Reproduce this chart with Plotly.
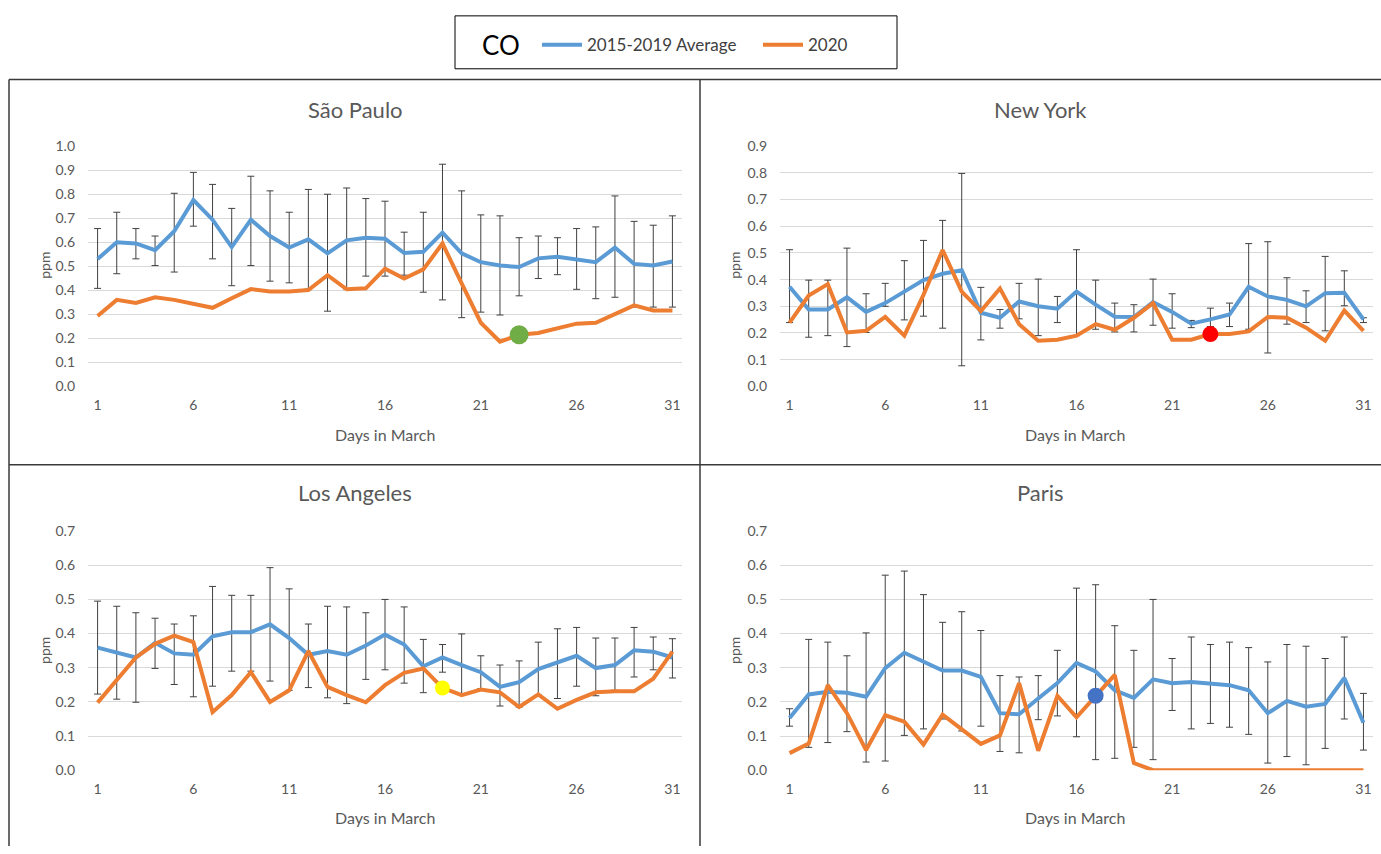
import plotly.graph_objects as go

# ---- data: daily CO (ppm) for March ----
days = list(range(1, 32))
x_ticks = [1, 6, 11, 16, 21, 26, 31]

sp_avg = [0.53, 0.60, 0.595, 0.567, 0.646, 0.776, 0.694, 0.58, 0.694, 0.626, 0.578, 0.612, 0.554, 0.608, 0.619,
          0.615, 0.555, 0.56, 0.64, 0.554, 0.517, 0.503, 0.497, 0.533, 0.54, 0.53, 0.517, 0.578, 0.51, 0.503, 0.52]
sp_hi = [0.657, 0.725, 0.657, 0.626, 0.804, 0.891, 0.841, 0.741, 0.875, 0.814, 0.725, 0.820, 0.80, 0.826, 0.782,
         0.771, 0.642, 0.725, 0.925, 0.814, 0.714, 0.71, 0.619, 0.626, 0.619, 0.657, 0.664, 0.793, 0.687, 0.671, 0.71]
sp_lo = [0.408, 0.469, 0.531, 0.503, 0.476, 0.667, 0.531, 0.419, 0.503, 0.438, 0.431, 0.405, 0.313, 0.405, 0.459,
         0.459, 0.463, 0.392, 0.36, 0.286, 0.309, 0.297, 0.377, 0.449, 0.465, 0.404, 0.365, 0.371, 0.33, 0.33, 0.33]
sp_2020 = [0.293, 0.36, 0.347, 0.371, 0.36, 0.343, 0.327, 0.367, 0.405, 0.395, 0.395, 0.401, 0.463, 0.404, 0.408,
           0.49, 0.449, 0.487, 0.595, 0.429, 0.265, 0.186, 0.215, 0.222, 0.242, 0.261, 0.265, 0.3, 0.337, 0.316, 0.316]

ny_avg = [0.373, 0.288, 0.288, 0.334, 0.279, 0.312, 0.355, 0.398, 0.422, 0.435, 0.276, 0.257, 0.318, 0.30, 0.291,
          0.355, 0.306, 0.261, 0.26, 0.316, 0.279, 0.235, 0.251, 0.269, 0.373, 0.337, 0.324, 0.30, 0.349, 0.351, 0.251]
ny_hi = [0.512, 0.398, 0.398, 0.518, 0.347, 0.386, 0.471, 0.547, 0.622, 0.798, 0.371, 0.288, 0.386, 0.402, 0.337,
         0.512, 0.398, 0.312, 0.306, 0.402, 0.347, 0.247, 0.293, 0.312, 0.535, 0.542, 0.407, 0.358, 0.487, 0.433, 0.257]
ny_lo = [0.239, 0.184, 0.19, 0.149, 0.202, 0.30, 0.249, 0.263, 0.218, 0.077, 0.174, 0.218, 0.253, 0.19, 0.239,
         0.19, 0.214, 0.204, 0.204, 0.229, 0.218, 0.22, 0.224, 0.224, 0.214, 0.125, 0.233, 0.239, 0.208, 0.302, 0.239]
ny_2020 = [0.239, 0.34, 0.383, 0.202, 0.208, 0.26, 0.19, 0.343, 0.511, 0.355, 0.282, 0.367, 0.233, 0.171, 0.175,
           0.19, 0.233, 0.212, 0.257, 0.312, 0.175, 0.175, 0.196, 0.196, 0.206, 0.26, 0.257, 0.22, 0.171, 0.284, 0.208]

la_avg = [0.359, 0.344, 0.33, 0.373, 0.342, 0.338, 0.392, 0.404, 0.404, 0.427, 0.387, 0.338, 0.349, 0.338, 0.365,
          0.397, 0.368, 0.304, 0.33, 0.308, 0.287, 0.244, 0.258, 0.296, 0.314, 0.335, 0.299, 0.308, 0.351, 0.347, 0.33]
la_hi = [0.495, 0.48, 0.461, 0.445, 0.428, 0.452, 0.538, 0.512, 0.512, 0.593, 0.531, 0.428, 0.48, 0.478, 0.461,
         0.5, 0.478, 0.383, 0.368, 0.399, 0.335, 0.308, 0.32, 0.375, 0.414, 0.418, 0.387, 0.387, 0.418, 0.39, 0.385]
la_lo = [0.223, 0.208, 0.199, 0.298, 0.251, 0.215, 0.246, 0.29, 0.29, 0.261, 0.234, 0.242, 0.212, 0.195, 0.266,
         0.294, 0.255, 0.227, 0.287, 0.22, 0.239, 0.188, 0.185, 0.22, 0.21, 0.246, 0.218, 0.234, 0.273, 0.294, 0.27]
la_2020 = [0.198, 0.263, 0.33, 0.37, 0.394, 0.375, 0.17, 0.22, 0.287, 0.2, 0.234, 0.349, 0.244, 0.22, 0.199,
           0.249, 0.285, 0.298, 0.241, 0.22, 0.236, 0.228, 0.185, 0.222, 0.18, 0.206, 0.228, 0.231, 0.231, 0.268, 0.347]

pa_avg = [0.153, 0.222, 0.23, 0.227, 0.215, 0.299, 0.344, 0.317, 0.292, 0.292, 0.273, 0.167, 0.164, 0.21, 0.255,
          0.314, 0.289, 0.234, 0.212, 0.266, 0.255, 0.258, 0.253, 0.249, 0.234, 0.167, 0.203, 0.186, 0.194, 0.27, 0.139]
pa_hi = [0.18, 0.383, 0.375, 0.335, 0.402, 0.571, 0.583, 0.514, 0.433, 0.464, 0.409, 0.277, 0.273, 0.277, 0.351,
         0.533, 0.543, 0.423, 0.351, 0.5, 0.327, 0.39, 0.368, 0.375, 0.359, 0.317, 0.368, 0.363, 0.327, 0.39, 0.225]
pa_lo = [0.129, 0.067, 0.081, 0.113, 0.024, 0.027, 0.102, 0.121, 0.15, 0.115, 0.129, 0.055, 0.051, 0.148, 0.159,
         0.098, 0.031, 0.035, 0.067, 0.031, 0.175, 0.121, 0.137, 0.126, 0.105, 0.021, 0.04, 0.016, 0.064, 0.15, 0.059]
pa_2020 = [0.05, 0.078, 0.249, 0.167, 0.059, 0.161, 0.142, 0.075, 0.163, 0.12, 0.077, 0.102, 0.255, 0.057, 0.218,
           0.155, 0.218, 0.279, 0.021, 0.0, 0.0, 0.0, 0.0, 0.0, 0.0, 0.0, 0.0, 0.0, 0.0, 0.0, 0.0]

cities = ["São Paulo", "New York", "Los Angeles", "Paris"]
y_max = [1.0, 0.9, 0.7, 0.7]
marked_day = [23, 23, 19, 17]
marked_color = ["#70AD47", "#FF0000", "#FFFF00", "#4472C4"]
marked_size = [19, 16, 15, 16]

# ---- styling / layout ----
W, H = 1381, 854
FONT = "Lato"
BLUE = "#5B9BD5"
ORANGE = "#ED7D31"
GRAY_TXT = "#595959"
GRID = "#D9D9D9"


def fx(px):
    return px / W


def fy(py):
    return 1 - py / H


# plot-area pixel boxes: (left, right, top, bottom)
boxes = [(88, 682, 140, 385), (780, 1373, 140, 385),
         (88, 682, 532.7, 776.7), (780, 1373, 532.7, 776.7)]
title_pos = [(355, 103), (1040, 103), (355, 493), (1040, 493)]
xtitle_pos = [(385, 434), (1075, 434), (385, 825), (1075, 825)]
ytitle_pos = [(45, 262), (735, 262), (45, 655), (735, 655)]

series = [(sp_avg, sp_hi, sp_lo, sp_2020), (ny_avg, ny_hi, ny_lo, ny_2020),
          (la_avg, la_hi, la_lo, la_2020), (pa_avg, pa_hi, pa_lo, pa_2020)]

fig = go.Figure()
annotations = []
layout_axes = {}


def label(text, pos, size, color=GRAY_TXT, angle=0):
    return dict(text=text, x=fx(pos[0]), y=fy(pos[1]), xref="paper", yref="paper",
                xanchor="center", yanchor="middle", showarrow=False, textangle=angle,
                font=dict(family=FONT, size=size, color=color))


for i, (avg, hi, lo, y20) in enumerate(series):
    n = i + 1
    xa = "x" if n == 1 else f"x{n}"
    ya = "y" if n == 1 else f"y{n}"
    up = [h - a for h, a in zip(hi, avg)]
    dn = [a - l for a, l in zip(avg, lo)]

    fig.add_trace(go.Scatter(
        x=days, y=avg, mode="lines", name="2015-2019 Average",
        line=dict(color=BLUE, width=4),
        error_y=dict(type="data", array=up, arrayminus=dn, symmetric=False,
                     color="#404040", thickness=1, width=3.5),
        xaxis=xa, yaxis=ya, showlegend=(n == 1), legend="legend"))
    fig.add_trace(go.Scatter(
        x=days, y=y20, mode="lines", name="2020",
        line=dict(color=ORANGE, width=4),
        xaxis=xa, yaxis=ya, showlegend=(n == 1), legend="legend2"))
    d = marked_day[i]
    fig.add_trace(go.Scatter(
        x=[d], y=[y20[days.index(d)]], mode="markers",
        marker=dict(color=marked_color[i], size=marked_size[i], line=dict(width=0)),
        xaxis=xa, yaxis=ya, showlegend=False, hoverinfo="skip"))

    l, r, t, b = boxes[i]
    key = "" if n == 1 else str(n)
    layout_axes[f"xaxis{key}"] = dict(
        domain=[fx(l), fx(r)], range=[0.5, 31.5], anchor=ya,
        tickvals=x_ticks, showgrid=False, zeroline=False,
        showline=False, ticks="", ticklabelstandoff=9,
        tickfont=dict(family=FONT, size=14, color=GRAY_TXT))
    layout_axes[f"yaxis{key}"] = dict(
        domain=[fy(b), fy(t)], range=[0, y_max[i]], anchor=xa,
        dtick=0.1, tick0=0, tickformat=".1f", showgrid=True, gridcolor=GRID,
        gridwidth=1, zeroline=False, showline=False, ticks="",
        ticklabelstandoff=12,
        tickfont=dict(family=FONT, size=14, color=GRAY_TXT))

    annotations.append(label(cities[i], title_pos[i], 22))
    annotations.append(label("Days in March", xtitle_pos[i], 16))
    annotations.append(label("ppm", ytitle_pos[i], 14, angle=-90))

# legend heading
annotations.append(label("CO", (501, 37), 26, color="#000000"))

# panel frame and legend box
frame = dict(type="line", xref="paper", yref="paper", line=dict(color="#3A3A3A", width=1.5))
shapes = [
    dict(frame, x0=fx(9), x1=fx(9), y0=fy(72), y1=0),
    dict(frame, x0=fx(9), x1=1, y0=fy(72), y1=fy(72)),
    dict(frame, x0=fx(700), x1=fx(700), y0=fy(72), y1=0),
    dict(frame, x0=fx(9), x1=1, y0=fy(465), y1=fy(465)),
    dict(type="rect", xref="paper", yref="paper", x0=fx(455), x1=fx(897), y0=fy(61), y1=fy(7),
         line=dict(color="#000000", width=1), fillcolor="white"),
]

legend_common = dict(orientation="h", xanchor="left", yanchor="middle",
                     bgcolor="rgba(0,0,0,0)", borderwidth=0,
                     font=dict(family=FONT, size=17, color="#404040"),
                     itemwidth=40, tracegroupgap=0)

fig.update_layout(
    width=W, height=H, margin=dict(l=0, r=0, t=0, b=0),
    paper_bgcolor="white", plot_bgcolor="white",
    showlegend=True,
    legend=dict(legend_common, x=fx(537), y=fy(37)),
    legend2=dict(legend_common, x=fx(758), y=fy(37)),
    shapes=shapes, annotations=annotations,
    **layout_axes)

fig.write_html("out.html")
